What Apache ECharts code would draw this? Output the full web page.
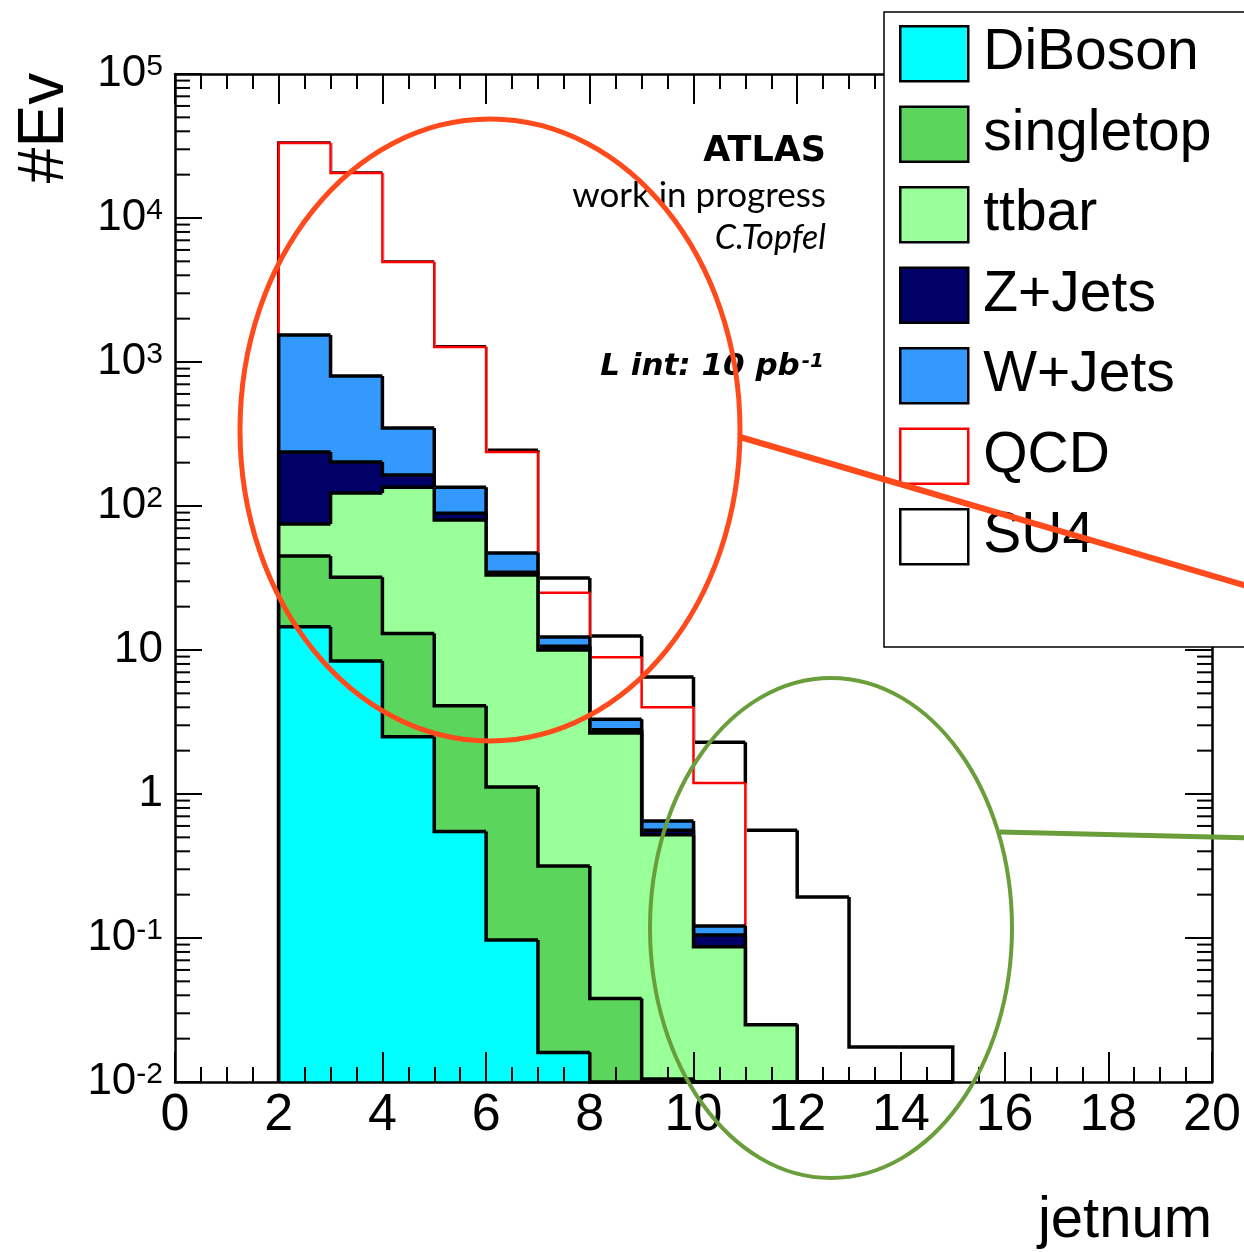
<!DOCTYPE html>
<html><head><meta charset="utf-8">
<script src="https://cdn.jsdelivr.net/npm/echarts@6/dist/echarts.min.js"></script>
<style>html,body{margin:0;padding:0;background:#fff}#c{width:1244px;height:1252px}</style>
</head><body><div id="c"></div>
<script>
// ---- data (bin lower edges, bin width 1) ----
const binLow    = [2, 3, 4, 5, 6, 7, 8, 9, 10, 11, 12, 13, 14];
const diboson   = [14.5, 8.4, 2.5, 0.55, 0.097, 0.016, 0, 0, 0, 0, 0, 0, 0];
const singletop = [30.5, 23.6, 10.5, 3.55, 1.02, 0.30, 0.038, 0.0105, 0, 0, 0, 0, 0];
const ttbar     = [30, 91, 122, 76, 32, 9.7, 2.61, 0.51, 0.087, 0.025, 0, 0, 0];
const zjets     = [162, 79, 29, 9, 1.5, 0.6, 0.15, 0.04, 0.018, 0, 0, 0, 0];
const wjets     = [1303, 598, 184, 46, 12.5, 1.7, 0.5, 0.09, 0.016, 0, 0, 0, 0];
const qcd       = [31660, 19700, 4602, 1135, 190, 12.7, 5.6, 3.35, 1.07, 0, 0, 0, 0];
const su4       = [1, 3, 5, 6, 7, 6.6, 3.6, 2.5, 1.1, 0.535, 0.193, 0.0175, 0.0175];

const seriesNames = ['DiBoson', 'singletop', 'ttbar', 'Z+Jets', 'W+Jets', 'QCD', 'SU4'];
const fillColors  = ['#00ffff', '#5bd55b', '#99ff99', '#000066', '#3399ff', '#ffffff', '#ffffff'];
const lineColors  = ['#000000', '#000000', '#000000', '#000000', '#000000', '#ff0000', '#000000'];

const xMin = 0, xMax = 20, xInterval = 2;
const yMin = 0.01, yMax = 1e5;

// ---- stacking ----
const comps = [diboson, singletop, ttbar, zjets, wjets, qcd, su4];
const cum = [];
let run = binLow.map(() => 0);
comps.forEach(c => { run = run.map((r, i) => r + c[i]); cum.push(run.slice()); });

function histData(k) {
  const n = binLow.length;
  return binLow.map((x, i) => [x, x + 1, cum[k][i], i > 0 ? cum[k][i - 1] : 0, i === n - 1 ? 1 : 0]);
}
function renderHist(k) {
  return function (params, api) {
    const x0 = api.value(0), x1 = api.value(1);
    const top = Math.max(api.value(2), yMin), prev = Math.max(api.value(3), yMin);
    const last = api.value(4);
    const pBL = api.coord([x0, yMin]);
    const pTR = api.coord([x1, top]);
    const pts = [api.coord([x0, prev]), api.coord([x0, top]), pTR];
    if (last) pts.push(api.coord([x1, yMin]));
    return {
      type: 'group',
      children: [
        { type: 'rect', shape: { x: pBL[0], y: pTR[1], width: pTR[0] - pBL[0] + (last ? 0 : 1.5), height: pBL[1] - pTR[1] },
          style: { fill: fillColors[k] }, z2: 0 },
        { type: 'polyline', shape: { points: pts },
          style: { stroke: lineColors[k], lineWidth: k === 5 ? 2.5 : 3.5, fill: null }, z2: 1 }
      ]
    };
  };
}

// log minor tick positions (2..9 x 10^d)
const minorLog = [];
for (let d = -2; d < 5; d++) for (let m = 2; m <= 9; m++) minorLog.push([m * Math.pow(10, d)]);

const series = [];
for (let k = seriesNames.length - 1; k >= 0; k--) {
  series.push({
    name: seriesNames[k], type: 'custom', z: 2 + (6 - k),
    renderItem: renderHist(k), data: histData(k),
    encode: { x: [0, 1], y: 2 }, silent: true
  });
}
series.push({
  type: 'custom', z: 25, silent: true, data: minorLog,
  encode: { y: 0 },
  renderItem: function (params, api) {
    const v = api.value(0);
    const pl = api.coord([xMin, v]), pr = api.coord([xMax, v]);
    return { type: 'group', children: [
      { type: 'line', shape: { x1: pl[0], y1: pl[1], x2: pl[0] + 15, y2: pl[1] }, style: { stroke: '#000', lineWidth: 2 } },
      { type: 'line', shape: { x1: pr[0], y1: pr[1], x2: pr[0] - 15, y2: pr[1] }, style: { stroke: '#000', lineWidth: 2 } }
    ]};
  }
});

const FONT = 'Liberation Sans';
function yLab(v) {
  const e = Math.round(Math.log10(v));
  if (e === 0) return '{b|1}';
  if (e === 1) return '{b|10}';
  return '{b|10}{s|' + e + '}';
}
const yRich = {
  b: { fontSize: 44, fontFamily: FONT, color: '#000', lineHeight: 44, verticalAlign: 'bottom' },
  s: { fontSize: 30, fontFamily: FONT, color: '#000', verticalAlign: 'top', lineHeight: 30, padding: [0, 0, 22, 0] }
};

const xAxisBase = {
  type: 'value', min: xMin, max: xMax, interval: xInterval, z: 20,
  axisLine: { onZero: false, lineStyle: { color: '#000', width: 2.5 } },
  axisTick: { inside: true, length: 30, lineStyle: { color: '#000', width: 2 } },
  minorTick: { show: true, splitNumber: 4, length: 15, lineStyle: { color: '#000', width: 2 } },
  splitLine: { show: false }, minorSplitLine: { show: false }
};
const yAxisBase = {
  type: 'log', logBase: 10, min: yMin, max: yMax, splitNumber: 7, z: 20,
  axisLine: { onZero: false, lineStyle: { color: '#000', width: 2.5 } },
  axisTick: { inside: true, length: 27, lineStyle: { color: '#000', width: 2 } },
  splitLine: { show: false }
};

const chart = echarts.init(document.getElementById('c'), null, { renderer: 'canvas' });
chart.setOption({
  animation: false,
  backgroundColor: '#fff',
  grid: { left: 175, top: 74, right: 32, bottom: 170 },
  xAxis: [
    Object.assign({}, xAxisBase, {
      position: 'bottom',
      axisLabel: { fontSize: 52, fontFamily: FONT, color: '#000', margin: 8 },
      name: 'jetnum', nameLocation: 'end', nameGap: 0,
      nameTextStyle: { fontSize: 58, fontFamily: FONT, color: '#000', align: 'right', verticalAlign: 'top', padding: [110, 0, 0, 0] }
    }),
    Object.assign({}, xAxisBase, { position: 'top', axisLabel: { show: false } })
  ],
  yAxis: [
    Object.assign({}, yAxisBase, {
      position: 'left',
      axisLabel: { formatter: yLab, rich: yRich, margin: 12 }
    }),
    Object.assign({}, yAxisBase, { position: 'right', axisLabel: { show: false } })
  ],
  legend: {
    orient: 'vertical', left: 899, top: 25, padding: 0, z: 50,
    selectedMode: false, icon: 'rect', itemWidth: 68, itemHeight: 55, itemGap: 23,
    textStyle: { fontSize: 57, fontFamily: FONT, color: '#000', lineHeight: 57, padding: [0, 0, 0, 10] },
    data: seriesNames.map((n, k) => ({
      name: n, icon: 'rect',
      itemStyle: { color: fillColors[k], borderColor: lineColors[k], borderWidth: 2.5 }
    }))
  },
  graphic: { elements: [
    { type: 'rect', z: 40, shape: { x: 884, y: 12, width: 420, height: 635 },
      style: { fill: '#fff', stroke: '#000', lineWidth: 1.5 } },
    { type: 'text', z: 45, x: 45, y: 128, rotation: Math.PI / 2,
      style: { text: '#Ev', fontSize: 64, fontFamily: FONT, fill: '#000', align: 'center', verticalAlign: 'middle' } },
    { type: 'text', z: 45, x: 826, y: 152,
      style: { text: 'ATLAS', fontSize: 35, fontWeight: 'bold', fontFamily: 'DejaVu Sans', fill: '#000', align: 'right', verticalAlign: 'middle' } },
    { type: 'text', z: 45, x: 826, y: 196,
      style: { text: 'work in progress', fontSize: 35, fontFamily: 'Lato', fill: '#000', align: 'right', verticalAlign: 'middle' } },
    { type: 'text', z: 45, x: 826, y: 238,
      style: { text: 'C.Topfel', fontSize: 34, fontStyle: 'italic', fontFamily: 'Lato', fill: '#000', align: 'right', verticalAlign: 'middle' } },
    { type: 'text', z: 45, x: 824, y: 367,
      style: { text: '{a|L int: 10 pb}{s|-1}', align: 'right', verticalAlign: 'middle',
        rich: {
          a: { fontSize: 31, fontWeight: 'bold', fontStyle: 'italic', fontFamily: 'DejaVu Sans', fill: '#000', lineHeight: 31, verticalAlign: 'bottom' },
          s: { fontSize: 20, fontWeight: 'bold', fontStyle: 'italic', fontFamily: 'DejaVu Sans', fill: '#000', verticalAlign: 'top', lineHeight: 20, padding: [0, 0, 16, 2] }
        } } },
    { type: 'ellipse', z: 100, shape: { cx: 490, cy: 430, rx: 250, ry: 311 },
      style: { fill: null, stroke: '#ff4a1c', lineWidth: 5 } },
    { type: 'line', z: 100, shape: { x1: 740, y1: 437, x2: 1250, y2: 587 },
      style: { stroke: '#ff4a1c', lineWidth: 6 } },
    { type: 'ellipse', z: 100, shape: { cx: 831, cy: 928, rx: 181, ry: 250 },
      style: { fill: null, stroke: '#6a9e3a', lineWidth: 4 } },
    { type: 'line', z: 100, shape: { x1: 1000, y1: 832, x2: 1250, y2: 838 },
      style: { stroke: '#6a9e3a', lineWidth: 5 } }
  ] },
  series: series
});
</script>
</body></html>
